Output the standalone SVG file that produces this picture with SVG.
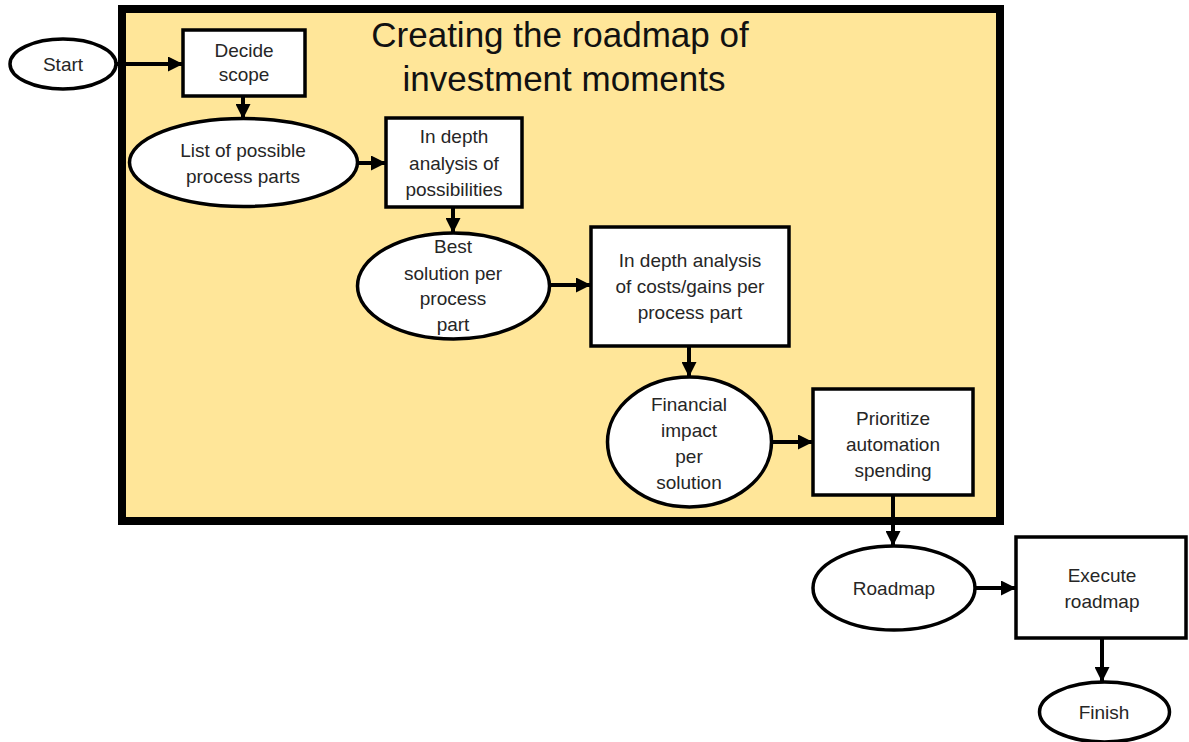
<svg xmlns="http://www.w3.org/2000/svg" width="1189" height="742" viewBox="0 0 1189 742">
<style>
.n{fill:#fff;stroke:#000;stroke-width:3.5}
.t{font-family:"Liberation Sans",Arial,sans-serif;font-size:19px;fill:#262626;text-anchor:middle}
.c{stroke:#000;stroke-width:4;fill:none;marker-end:url(#ah)}
.title{font-family:"Liberation Sans",Arial,sans-serif;font-size:35px;fill:#111;text-anchor:middle}
</style>
<defs>
<marker id="ah" markerUnits="userSpaceOnUse" markerWidth="15" markerHeight="15" refX="14" refY="7.5" orient="auto">
<path d="M0,0 L15,7.5 L0,15 Z" fill="#000"/>
</marker>
</defs>
<rect width="1189" height="742" fill="#fff"/>
<g id="container">
<rect x="122" y="9" width="878" height="512" fill="#FFE699" stroke="#000" stroke-width="8"/>
<text class="title" x="560" y="47">Creating the roadmap of</text>
<text class="title" x="564" y="91">investment moments</text>
</g>
<g id="connectors">
<line class="c" x1="117" y1="64" x2="182" y2="64"/>
<line class="c" x1="243" y1="97" x2="243" y2="118"/>
<line class="c" x1="358" y1="163" x2="385" y2="163"/>
<line class="c" x1="453" y1="208" x2="453" y2="232"/>
<line class="c" x1="551" y1="285" x2="590" y2="285"/>
<line class="c" x1="689" y1="347" x2="689" y2="376"/>
<line class="c" x1="772" y1="442" x2="812" y2="442"/>
<line class="c" x1="893" y1="495" x2="893" y2="545"/>
<line class="c" x1="975" y1="588" x2="1015" y2="588"/>
<line class="c" x1="1102" y1="639" x2="1102" y2="681"/>
</g>
<g id="start">
<ellipse class="n" cx="63" cy="64" rx="53" ry="25"/>
<text class="t" x="63" y="71">Start</text>
</g>
<g id="decide">
<rect class="n" x="183" y="30" width="122" height="66"/>
<text class="t" x="244" y="57">Decide</text>
<text class="t" x="244" y="81">scope</text>
</g>
<g id="list">
<ellipse class="n" cx="243.5" cy="162.5" rx="114" ry="44"/>
<text class="t" x="243" y="157">List of possible</text>
<text class="t" x="243" y="183">process parts</text>
</g>
<g id="indepth1">
<rect class="n" x="386" y="118" width="136" height="89"/>
<text class="t" x="454" y="143">In depth</text>
<text class="t" x="454" y="170">analysis of</text>
<text class="t" x="454" y="196">possibilities</text>
</g>
<g id="best">
<ellipse class="n" cx="453.5" cy="286" rx="96" ry="53"/>
<text class="t" x="453" y="253">Best</text>
<text class="t" x="453" y="280">solution per</text>
<text class="t" x="453" y="305">process</text>
<text class="t" x="453" y="331">part</text>
</g>
<g id="indepth2">
<rect class="n" x="591" y="227" width="198" height="119"/>
<text class="t" x="690" y="267">In depth analysis</text>
<text class="t" x="690" y="293">of costs/gains per</text>
<text class="t" x="690" y="319">process part</text>
</g>
<g id="financial">
<ellipse class="n" cx="689.5" cy="442" rx="82" ry="65"/>
<text class="t" x="689" y="411">Financial</text>
<text class="t" x="689" y="437">impact</text>
<text class="t" x="689" y="463">per</text>
<text class="t" x="689" y="489">solution</text>
</g>
<g id="prioritize">
<rect class="n" x="813" y="389" width="160" height="106"/>
<text class="t" x="893" y="425">Prioritize</text>
<text class="t" x="893" y="451">automation</text>
<text class="t" x="893" y="477">spending</text>
</g>
<g id="roadmap">
<ellipse class="n" cx="894" cy="588" rx="81" ry="42"/>
<text class="t" x="894" y="595">Roadmap</text>
</g>
<g id="execute">
<rect class="n" x="1016" y="537" width="170" height="101"/>
<text class="t" x="1102" y="582">Execute</text>
<text class="t" x="1102" y="608">roadmap</text>
</g>
<g id="finish">
<ellipse class="n" cx="1104.5" cy="712" rx="65" ry="30"/>
<text class="t" x="1104" y="719">Finish</text>
</g>
</svg>
